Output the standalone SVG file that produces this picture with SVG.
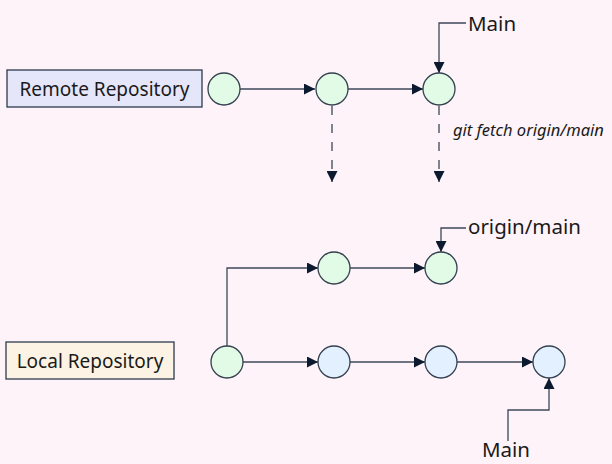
<svg xmlns="http://www.w3.org/2000/svg" width="612" height="464" viewBox="0 0 612 464">
<defs>
<style>
.lbl{font-family:"Noto Sans","Open Sans",sans-serif;font-size:19px;fill:#1a1a1a}
.tag{font-family:"Noto Sans","Open Sans",sans-serif;font-size:20.5px;fill:#1a1a1a}
.it{font-family:"Noto Sans","Open Sans",sans-serif;font-size:16.5px;font-style:italic;fill:#1a1a1a}
.g{fill:#E2FBE6;stroke:#34404f;stroke-width:1.3}
.b{fill:#E3F0FF;stroke:#34404f;stroke-width:1.3}
.ln{fill:none;stroke:#3d4858;stroke-width:1.3}
.dash{fill:none;stroke:#3d4858;stroke-width:1.3;stroke-dasharray:9,9}
</style>
<marker id="ah" viewBox="0 0 10 10" refX="10" refY="5" markerWidth="11" markerHeight="11" markerUnits="userSpaceOnUse" orient="auto">
<path d="M0,0 L10,5 L0,10 Z" fill="#0c1a30"/>
</marker>
</defs>
<rect width="612" height="464" fill="#FDF3F8"/>
<g id="connectors">
<line class="ln" x1="240" y1="89" x2="315" y2="89" marker-end="url(#ah)"/>
<line class="ln" x1="348" y1="89" x2="423" y2="89" marker-end="url(#ah)"/>
<polyline class="ln" points="466,23 439,23 439,73" marker-end="url(#ah)"/>
<line class="dash" x1="332" y1="106" x2="332" y2="182" marker-end="url(#ah)"/>
<line class="dash" x1="439" y1="106" x2="439" y2="182" marker-end="url(#ah)"/>
<polyline class="ln" points="227,346 227,268 318,268" marker-end="url(#ah)"/>
<line class="ln" x1="243" y1="362" x2="318" y2="362" marker-end="url(#ah)"/>
<line class="ln" x1="350" y1="268" x2="425" y2="268" marker-end="url(#ah)"/>
<polyline class="ln" points="466,228 441,228 441,252" marker-end="url(#ah)"/>
<line class="ln" x1="350" y1="362" x2="425" y2="362" marker-end="url(#ah)"/>
<line class="ln" x1="457" y1="362" x2="533" y2="362" marker-end="url(#ah)"/>
<polyline class="ln" points="508,441 508,410 549,410 549,378" marker-end="url(#ah)"/>
</g>
<g id="remote-label">
<rect x="7" y="70" width="195" height="37" fill="#E6E6FA" stroke="#2f3a4c" stroke-width="1.3"/>
<text class="lbl" x="104.5" y="95.5" text-anchor="middle">Remote Repository</text>
</g>
<g id="local-label">
<rect x="6" y="342" width="168" height="37" fill="#FDF3E4" stroke="#2f3a4c" stroke-width="1.3"/>
<text class="lbl" x="90" y="367.5" text-anchor="middle">Local Repository</text>
</g>
<g id="r1"><circle class="g" cx="224" cy="89" r="16"/></g>
<g id="r2"><circle class="g" cx="332" cy="89" r="16"/></g>
<g id="r3"><circle class="g" cx="439" cy="89" r="16"/></g>
<g id="l0"><circle class="g" cx="227" cy="362" r="16"/></g>
<g id="o1"><circle class="g" cx="334" cy="268" r="16"/></g>
<g id="o2"><circle class="g" cx="441" cy="268" r="16"/></g>
<g id="l1"><circle class="b" cx="334" cy="362" r="16"/></g>
<g id="l2"><circle class="b" cx="441" cy="362" r="16"/></g>
<g id="l3"><circle class="b" cx="549" cy="362" r="16"/></g>
<g id="main-remote"><text class="tag" x="468" y="31">Main</text></g>
<g id="fetch"><text class="it" x="453" y="136">git fetch origin/main</text></g>
<g id="origin-main"><text class="tag" x="468" y="234">origin/main</text></g>
<g id="main-local"><text class="tag" x="506" y="457" text-anchor="middle">Main</text></g>
</svg>
